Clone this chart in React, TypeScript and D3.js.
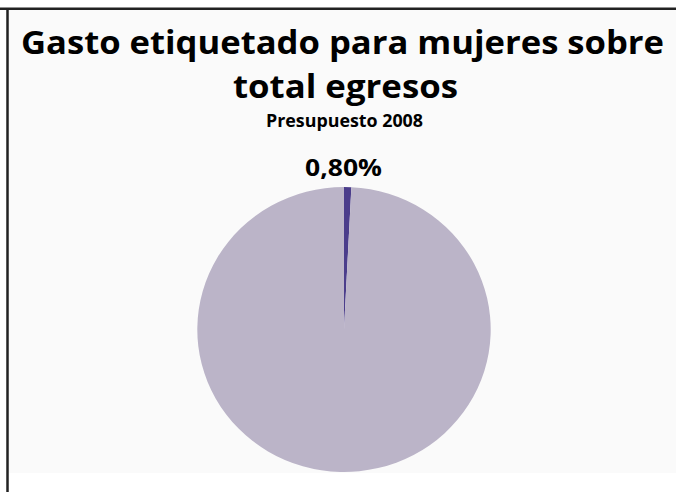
import React from "react";
import * as d3 from "d3";

const categories = ["Gasto etiquetado para mujeres", "Resto de egresos"];
const values = [0.8, 99.2];
const colors = ["#4b3d8b", "#bbb4c8"];
const labels = ["0,80%", ""];
const titleLines = ["Gasto etiquetado para mujeres sobre", "total egresos"];
const subtitle = "Presupuesto 2008";

const W = 676;
const H = 492;

export default function App() {
  const cx = 344;
  const cy = 329.5;
  const ry = 142.5;
  const rx = 146.7;
  const pie = d3.pie<number>().sort(null).value((d) => d)(values);
  const arc = d3.arc<d3.PieArcDatum<number>>().innerRadius(0).outerRadius(ry);
  const font = "'Open Sans', sans-serif";
  return (
    <svg
      width={W}
      height={H}
      style={{ position: "absolute", left: 0, top: 0, background: "#ffffff" }}
    >
      <rect x={7} y={9} width={W - 7} height={464} fill="#fafafa" />
      <line x1={0} x2={W} y1={8.75} y2={8.75} stroke="#222" strokeWidth={2.5} />
      <line x1={7.5} x2={7.5} y1={8} y2={H} stroke="#222" strokeWidth={2.5} />
      <text x={342.5} y={54} textAnchor="middle" fontFamily={font} fontWeight={700} fontSize={33} fill="#000"
        textLength={643} lengthAdjust="spacingAndGlyphs">
        {titleLines[0]}
      </text>
      <text x={345.5} y={98} textAnchor="middle" fontFamily={font} fontWeight={700} fontSize={33} fill="#000"
        textLength={225} lengthAdjust="spacingAndGlyphs">
        {titleLines[1]}
      </text>
      <text x={344.5} y={127} textAnchor="middle" fontFamily={font} fontWeight={700} fontSize={17} fill="#000"
        textLength={157} lengthAdjust="spacingAndGlyphs">
        {subtitle}
      </text>
      <g transform={`translate(${cx},${cy}) scale(${rx / ry},1)`}>
        {pie.map((d, i) => (
          <path key={categories[i]} d={arc(d) || ""} fill={colors[i]} />
        ))}
      </g>
      {pie.map((d, i) =>
        labels[i] ? (
          <text key={"l" + i} x={343.5} y={176}
            textAnchor="middle" fontFamily={font} fontWeight={700} fontSize={24} fill="#000"
            textLength={77} lengthAdjust="spacingAndGlyphs">
            {labels[i]}
          </text>
        ) : null
      )}
    </svg>
  );
}
